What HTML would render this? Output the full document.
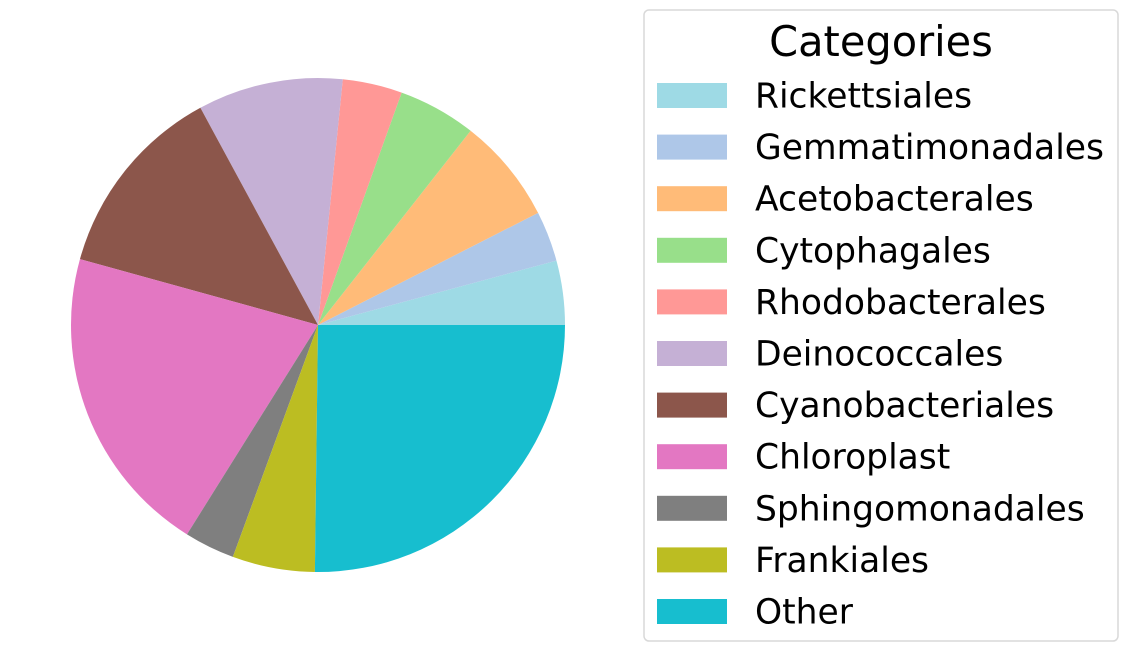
<!DOCTYPE html>
<html><head><meta charset="utf-8"><style>
body{margin:0;background:#fff;width:1129px;height:652px;overflow:hidden}
text{font-family:"DejaVu Sans","Liberation Sans",sans-serif}
</style></head><body>
<svg id="chart" width="1129" height="652">
<g id="pie"></g>
<g id="legend">
<rect x="644" y="10" width="474" height="631" rx="5" fill="#fff" stroke="#d9d9d9" stroke-width="1.5"/>
<text x="881" y="56" font-size="41.5" text-anchor="middle">Categories</text>
</g>
</svg>
<script>
const categories=["Rickettsiales","Gemmatimonadales","Acetobacterales","Cytophagales","Rhodobacterales","Deinococcales","Cyanobacteriales","Chloroplast","Sphingomonadales","Frankiales","Other"];
const values=[4.2,3.3,6.9,5.1,3.9,9.5,12.8,20.4,3.3,5.4,25.2];
const colors=["#9edae5","#aec7e8","#ffbb78","#98df8a","#ff9896","#c5b0d5","#8c564b","#e377c2","#7f7f7f","#bcbd22","#17becf"];
const NS="http://www.w3.org/2000/svg";
const cx=318,cy=325,r=247;
const total=values.reduce((a,b)=>a+b,0);
const pie=document.getElementById('pie');
let a0=0;
values.forEach((v,i)=>{
  const a1=a0+v/total*2*Math.PI;
  const x0=cx+r*Math.cos(a0),y0=cy-r*Math.sin(a0),x1=cx+r*Math.cos(a1),y1=cy-r*Math.sin(a1);
  const p=document.createElementNS(NS,'path');
  p.setAttribute('d',`M${cx},${cy}L${x0},${y0}A${r},${r} 0 ${(a1-a0)>Math.PI?1:0} 0 ${x1},${y1}Z`);
  p.setAttribute('fill',colors[i]);
  
  
  pie.appendChild(p);
  a0=a1;
});
const lg=document.getElementById('legend');
categories.forEach((c,i)=>{
  const y=95.5+i*51.6;
  const rc=document.createElementNS(NS,'rect');
  rc.setAttribute('x',657);rc.setAttribute('y',y-12.5);rc.setAttribute('width',70);rc.setAttribute('height',25);
  rc.setAttribute('fill',colors[i]);
  
  
  lg.appendChild(rc);
  const t=document.createElementNS(NS,'text');
  t.setAttribute('x',755);t.setAttribute('y',y+12);t.setAttribute('font-size',34.5);
  t.textContent=c;
  
  
  lg.appendChild(t);
});
</script>
</body></html>
